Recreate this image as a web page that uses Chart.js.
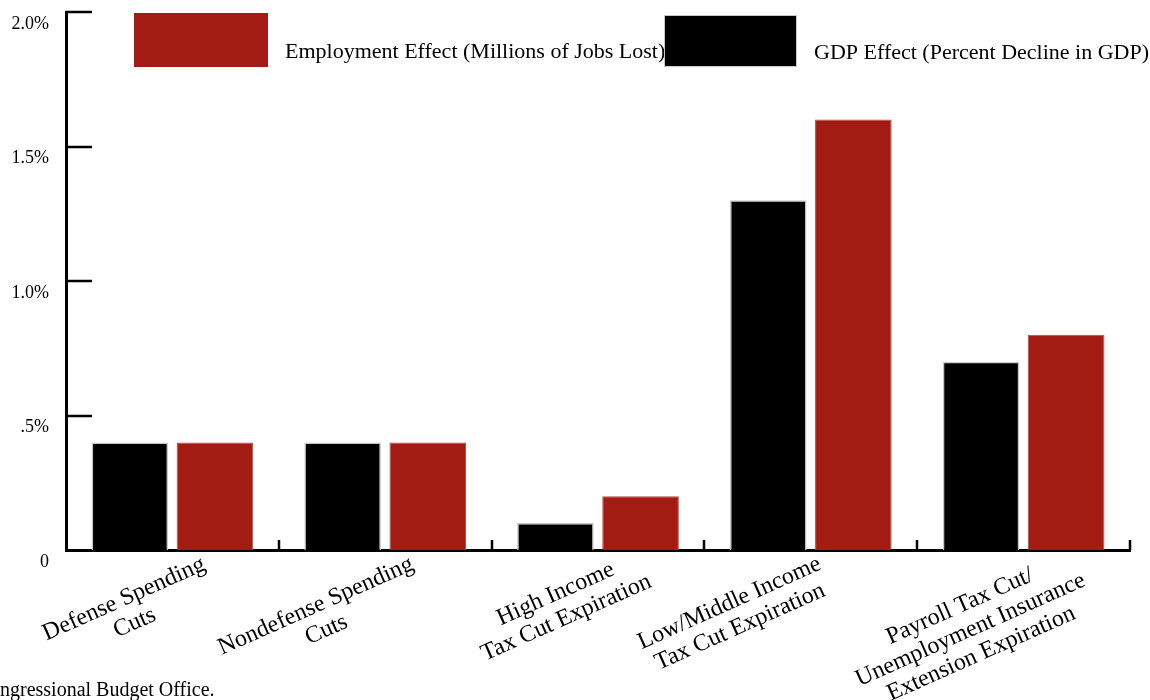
<!DOCTYPE html>
<html>
<head>
<meta charset="utf-8">
<script src="https://cdn.jsdelivr.net/npm/chart.js@4"></script>
<style>
  html, body { margin: 0; padding: 0; background: #fff; }
  #wrap { width: 1150px; height: 700px; position: relative; }
</style>
</head>
<body>
<div id="wrap"><canvas id="chart"></canvas></div>
<script>
// chart data
let categories = [
  ['Defense Spending', 'Cuts'],
  ['Nondefense Spending', 'Cuts'],
  ['High Income', 'Tax Cut Expiration'],
  ['Low/Middle Income', 'Tax Cut Expiration'],
  ['Payroll Tax Cut/', 'Unemployment Insurance', 'Extension Expiration']
];
let gdpEffect = [0.4, 0.4, 0.1, 1.3, 0.7];
let employmentEffect = [0.4, 0.4, 0.2, 1.6, 0.8];
let yTicks = [0, 0.5, 1.0, 1.5, 2.0];
let yTickLabels = ['0', '.5%', '1.0%', '1.5%', '2.0%'];
let gdpName = 'GDP Effect (Percent Decline in GDP)';
let employmentName = 'Employment Effect (Millions of Jobs Lost)';
let sourceNote = 'Source: Congressional Budget Office.';

const SERIF = '"Liberation Serif", "DejaVu Serif", serif';
const RED = '#a21c13';

// hand nudges for the rotated category labels (block centre, relative to category centre / axis)
let labelShift = [[-43, 61], [-64, 68], [-37, 56], [-76, 65], [-53, 80]];

const decor = {
  id: 'decor',
  afterDraw(chart) {
    const ctx = chart.ctx;
    const x = chart.scales.x;
    const y = chart.scales.y;
    const area = chart.chartArea;
    ctx.save();

    // y tick marks (pointing into the plot)
    ctx.strokeStyle = '#000';
    ctx.lineWidth = 2.5;
    yTicks.forEach(v => {
      if (v === 0) return;
      const py = Math.round(y.getPixelForValue(v));
      ctx.beginPath();
      ctx.moveTo(area.left, py);
      ctx.lineTo(area.left + 26, py);
      ctx.stroke();
    });

    // x tick marks at category boundaries
    const step = (area.right - area.left) / categories.length;
    categories.forEach((c, i) => {
      const px = Math.round(x.getPixelForValue(i) + step / 2);
      ctx.beginPath();
      ctx.moveTo(px, area.bottom);
      ctx.lineTo(px, area.bottom - 10);
      ctx.stroke();
    });

    // y tick labels
    ctx.fillStyle = '#000';
    ctx.font = '18px ' + SERIF;
    ctx.textAlign = 'right';
    ctx.textBaseline = 'middle';
    yTicks.forEach((v, i) => {
      ctx.fillText(yTickLabels[i], 49, y.getPixelForValue(v) + 12);
    });

    // rotated category labels
    ctx.font = '24px ' + SERIF;
    ctx.textAlign = 'center';
    categories.forEach((lines, i) => {
      ctx.save();
      ctx.translate(x.getPixelForValue(i) + labelShift[i][0], area.bottom + labelShift[i][1]);
      ctx.rotate(-24 * Math.PI / 180);
      lines.forEach((ln, j) => {
        ctx.fillText(ln, 0, (j - (lines.length - 1) / 2) * 26);
      });
      ctx.restore();
    });

    // legend
    ctx.font = '22px ' + SERIF;
    ctx.textAlign = 'left';
    ctx.fillStyle = RED;
    ctx.fillRect(134, 13, 134, 54);
    ctx.fillStyle = '#000';
    ctx.fillText(employmentName, 285, 52);
    ctx.fillStyle = '#000';
    ctx.fillRect(664, 15, 133, 52);
    ctx.strokeStyle = '#c8c8c8';
    ctx.lineWidth = 1;
    ctx.strokeRect(664.5, 15.5, 132, 51);
    ctx.fillStyle = '#000';
    ctx.fillText(gdpName, 814, 53);

    // source note, clipped at the left edge like the original
    ctx.font = '20px ' + SERIF;
    ctx.textBaseline = 'alphabetic';
    const lead = ctx.measureText('Source: Co').width;
    ctx.fillText(sourceNote, -lead, 696);

    ctx.restore();
  }
};

const chart = new Chart(document.getElementById('chart'), {
  type: 'bar',
  data: {
    labels: categories,
    datasets: [
      {
        label: gdpName,
        data: gdpEffect,
        backgroundColor: '#000',
        borderColor: '#c8c8c8',
        borderWidth: 1.5,
        categoryPercentage: 0.8,
        barPercentage: 0.9
      },
      {
        label: employmentName,
        data: employmentEffect,
        backgroundColor: RED,
        borderColor: '#b8483f',
        borderWidth: 1,
        categoryPercentage: 0.8,
        barPercentage: 0.9
      }
    ]
  },
  options: {
    responsive: true,
    maintainAspectRatio: false,
    animation: false,
    layout: { padding: { left: 58, right: 20, top: 12, bottom: 142 } },
    plugins: {
      legend: { display: false },
      tooltip: { enabled: false }
    },
    scales: {
      x: {
        grid: { display: false },
        ticks: { display: false },
        border: { display: true, color: '#000', width: 3 }
      },
      y: {
        min: 0,
        max: 2,
        grid: { display: false },
        ticks: { display: false, stepSize: 0.5 },
        border: { display: true, color: '#000', width: 3 }
      }
    }
  },
  plugins: [decor]
});
</script>
</body>
</html>
